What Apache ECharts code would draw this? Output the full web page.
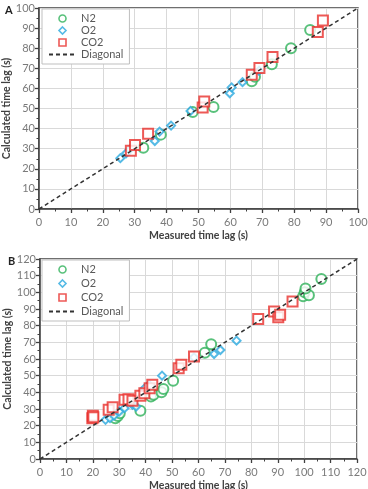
<!DOCTYPE html>
<html>
<head>
<meta charset="utf-8">
<script src="https://cdn.jsdelivr.net/npm/echarts@6/dist/echarts.min.js"></script>
<style>
  html, body { margin: 0; padding: 0; background: #fff; }
  #chart { width: 368px; height: 489px; }
</style>
</head>
<body>
<div id="chart"></div>
<script>
// panel A: measured vs calculated time lag (s)
const n2A = [[32.7, 30.5], [38.2, 37], [48.2, 48.2], [54.7, 50.8], [66.7, 63.5], [67.7, 65.8], [73, 72], [79, 80], [85, 89]];
const o2A = [[25.5, 25.3], [27.3, 27.7], [28.5, 29.5], [36.3, 33.8], [37.8, 38.5], [41.4, 41.5], [47.5, 48.8], [59.8, 57.6], [60.4, 60.5], [63.8, 63.1], [69, 68.8]];
const co2A = [[28.8, 29], [30.1, 31.9], [34.2, 37.4], [51.3, 50.5], [51.8, 53.5], [66.7, 66.8], [69.1, 70.1], [73.2, 75.6], [87.4, 88], [89, 93.8]];
const diagA = [[0, 0], [100, 100]];

// panel B
const n2B = [[28.5, 24.5], [29.5, 25.8], [30.2, 27.5], [38, 29], [42, 37.5], [43, 38.5], [46, 40], [46.7, 42], [50.4, 47], [62.4, 63.8], [64.8, 68.8], [99.6, 97.6], [100.2, 100], [101.8, 98.2], [100.5, 102.3], [106.5, 108]];
const o2B = [[24.8, 23.5], [26.5, 24.5], [28, 26], [30, 28.5], [32, 30.5], [35, 32.5], [36.4, 31.5], [39.6, 42.4], [41.3, 44.5], [46.2, 50], [58.3, 61], [65.9, 63], [68.3, 65.4], [74.4, 71]];
const co2B = [[19.8, 24.5], [20, 26], [20.2, 25], [26, 29.5], [27.5, 31], [32, 35.5], [33.5, 35.8], [35, 35], [38, 38], [39.5, 39.5], [41.5, 42.5], [42.5, 44.5], [52.5, 54.5], [53.5, 56.5], [58.3, 61.5], [82.6, 84], [88.6, 88.5], [90.2, 85], [90.9, 86.5], [95.6, 94.5]];
const diagB = [[0, 0], [120, 120]];

const colors = { N2: '#2fb25a', O2: '#2aa9df', CO2: '#e8302c' };

const font = 'Lato, "Liberation Sans", sans-serif';
const gridColor = '#d9d9d9';
const axisColor = '#404040';

const makeAxis = (gridIndex, max, name, nameGap, isY) => ({
  type: 'value',
  gridIndex,
  min: 0,
  max,
  interval: 10,
  name,
  nameLocation: 'middle',
  nameGap,
  nameMoveOverlap: false,
  nameTextStyle: { color: '#404040', fontWeight: 'bold', fontSize: 10.5, fontFamily: font },
  axisLine: { show: true, onZero: false, lineStyle: { color: axisColor, width: 1.5 } },
  axisTick: { show: true, length: 4, lineStyle: { color: axisColor, width: 1.3 } },
  minorTick: { show: true, splitNumber: 2, length: 2.5, lineStyle: { color: axisColor, width: 1 } },
  axisLabel: { color: '#7a7a7a', fontSize: 11, fontFamily: font, margin: isY ? 4 : 8 },
  splitLine: { show: true, lineStyle: { color: gridColor, width: 1 } },
});

const scatter = (name, data, symbol, size, idx) => ({
  name,
  type: 'scatter',
  xAxisIndex: idx,
  yAxisIndex: idx,
  data,
  symbol,
  symbolSize: size,
  itemStyle: { color: colors[name], borderWidth: 1.4 },
  z: 3,
});

const diagonal = (data, idx) => ({
  name: 'Diagonal',
  type: 'line',
  xAxisIndex: idx,
  yAxisIndex: idx,
  data,
  symbol: 'none',
  silent: true,
  itemStyle: { color: '#333' },
  lineStyle: { color: '#333', width: 1.5, type: [4, 3] },
  z: 4,
});

const hollow = (color) => ({ color: '#fff', borderColor: color, borderWidth: 1.6 });

const makeLegend = (top, gap) => ({
  data: [
    { name: 'N2', icon: 'circle', itemStyle: hollow(colors.N2) },
    { name: 'O2', icon: 'path://M5,0L10,5L5,10L0,5Z', itemStyle: hollow(colors.O2) },
    { name: 'CO2', icon: 'path://M0,0L10,0L10,10L0,10Z', itemStyle: hollow(colors.CO2) },
    { name: 'Diagonal', itemStyle: { opacity: 0 } },
  ],
  orient: 'vertical',
  left: 42,
  top,
  itemWidth: 27,
  itemHeight: 7,
  itemGap: gap,
  symbolKeepAspect: true,
  padding: [4, 6, 4, 6],
  backgroundColor: '#fff',
  borderColor: '#bfbfbf',
  borderWidth: 1,
  textStyle: { color: '#595959', fontSize: 11, fontFamily: font },
});

const chart = echarts.init(document.getElementById('chart'), null, { renderer: 'canvas' });

chart.setOption({
  animation: false,
  backgroundColor: '#fff',
  title: [
    { text: 'A', left: 0, top: 0, textStyle: { fontSize: 11, fontWeight: 'bold', color: '#222', fontFamily: font } },
    { text: 'B', left: 3, top: 251, textStyle: { fontSize: 11, fontWeight: 'bold', color: '#222', fontFamily: font } },
  ],
  legend: [makeLegend(9, 1), makeLegend(260, 3)],
  grid: [
    { left: 39, top: 8, width: 319, height: 201, outerBoundsMode: 'none', show: true, borderColor: axisColor, borderWidth: 1.5 },
    { left: 40, top: 259, width: 317, height: 200, outerBoundsMode: 'none', show: true, borderColor: axisColor, borderWidth: 1.5 },
  ],
  xAxis: [
    makeAxis(0, 100, 'Measured time lag (s)', 21, false),
    makeAxis(1, 120, 'Measured time lag (s)', 21, false),
  ],
  yAxis: [
    makeAxis(0, 100, 'Calculated time lag (s)', 27, true),
    makeAxis(1, 120, 'Calculated time lag (s)', 27, true),
  ],
  series: [
    scatter('N2', n2A, 'emptyCircle', 10, 0),
    scatter('O2', o2A, 'emptyDiamond', 8, 0),
    scatter('CO2', co2A, 'emptyRect', 10, 0),
    diagonal(diagA, 0),
    scatter('N2', n2B, 'emptyCircle', 10, 1),
    scatter('O2', o2B, 'emptyDiamond', 8, 1),
    scatter('CO2', co2B, 'emptyRect', 10, 1),
    diagonal(diagB, 1),
  ],
});

window.addEventListener('resize', () => chart.resize());
</script>
</body>
</html>
